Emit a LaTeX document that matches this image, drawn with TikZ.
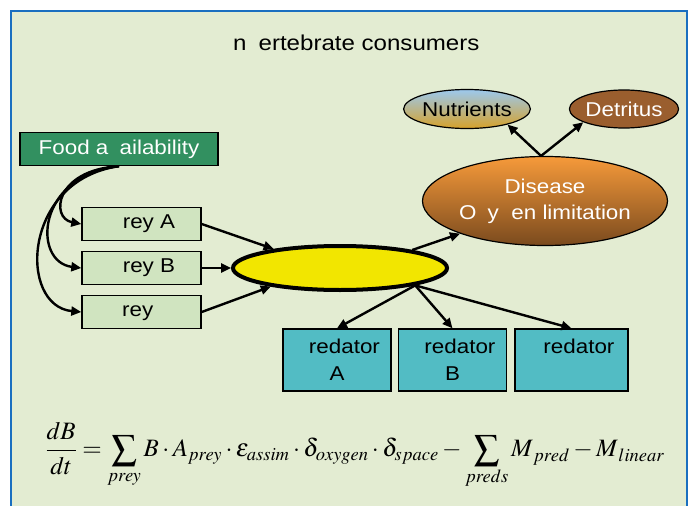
\documentclass[tikz,border=0pt]{standalone}
\usepackage{mathptmx}
\usepackage[no-math]{fontspec}
\setmainfont[FakeStretch=1.12]{Liberation Sans}
\usetikzlibrary{arrows.meta,positioning,shapes.geometric}

\definecolor{fond}{RGB}{227,236,210}
\definecolor{cadre}{RGB}{26,111,192}
\definecolor{vertF}{RGB}{50,144,96}
\definecolor{vertP}{RGB}{208,228,192}
\definecolor{jaune}{RGB}{242,230,0}
\definecolor{turq}{RGB}{82,188,196}
\definecolor{brun}{RGB}{154,94,46}

\begin{document}
\begin{tikzpicture}[x=1pt,y=1pt,on grid,node distance=44pt,
  boite/.style={draw=black,line width=1.4pt,font=\fontsize{20}{27}\selectfont,inner sep=0pt},
  proie/.style={boite,fill=vertP,minimum width=119pt,minimum height=33pt},
  pred/.style={boite,fill=turq,minimum width=108pt,minimum height=62pt,align=center},
  bulle/.style={ellipse,draw=black,line width=1.2pt,inner sep=0pt,font=\fontsize{20}{26}\selectfont,align=center}]

\tikzset{fleche/.style={-{Triangle[length=10pt,width=9pt]},line width=2.4pt,black}}

\fill[white] (0,0) rectangle (691,-506);
\useasboundingbox (0,0) rectangle (691,-506);
\draw[cadre,line width=2.5pt,fill=fond] (11,-11) rectangle (687,-530);

\node (T) at (353,-43) {\fontsize{21.5}{25}\selectfont\phantom{I}n\phantom{v}ertebrate consumers};

\node[boite,fill=vertF,text=white,minimum width=198pt,minimum height=33pt] (F) at (119,-149) {Food a\phantom{v}ailability};
\node[proie] (PA) at (141.5,-224) {\phantom{P}rey A};
\node[proie] (PB) [below=of PA] {\phantom{P}rey B};
\node[proie] (PC) [below=of PB] {\phantom{P}rey\phantom{ C}};

\node[ellipse,draw=black,line width=4pt,fill=jaune,minimum width=214pt,minimum height=44pt] (C) at (340,-268) {};

\node[bulle,text=white,top color={rgb,255:red,246;green,154;blue,58},bottom color={rgb,255:red,122;green,74;blue,30},
      minimum width=245pt,minimum height=89pt] (D) at (545,-201) {Disease\\O\phantom{x}y\phantom{g}en limitation};
\node[bulle,top color={rgb,255:red,156;green,200;blue,238},bottom color={rgb,255:red,214;green,162;blue,42},
      minimum width=120pt,minimum height=39pt] (N) at (467,-109) {Nutrients};
\node[bulle,fill=brun,text=white,minimum width=108pt,minimum height=38pt] (Det) at (624,-109) {Detritus};

\node[pred] (R1) at (337,-360) {\phantom{P}redator\\A};
\node[pred] (R2) at (452.5,-360) {\phantom{P}redator\\B};
\node[pred,minimum width=113pt] (R3) at (571.5,-360) {\phantom{P}redator\\\phantom{C}};

\draw[fleche] (F.south) .. controls (55,-170) and (50,-218) .. (PA.west);
\draw[fleche] (F.south) .. controls (36,-175) and (32,-262) .. (PB.west);
\draw[fleche] (F.south) .. controls (22,-180) and (18,-306) .. (PC.west);

\draw[fleche] (PA.east) -- (C.164);
\draw[fleche] (PB.east) -- (C.west);
\draw[fleche] (PC.east) -- (C.195);

\draw[fleche] (C.14) -- (D.201);
\draw[fleche] (C.-13) -- (R1.north);
\draw[fleche] (C.-13) -- (R2.north);
\draw[fleche] (C.-13) -- (R3.north);

\draw[fleche] (D.95) -- (N.-21);
\draw[fleche] (D.95) -- (Det.198);

\node (E) at (355,-456) {\fontsize{25}{30}\selectfont
  $\displaystyle \frac{dB}{dt}=\sum_{prey}B\cdot A_{prey}\cdot\varepsilon_{assim}\cdot\delta_{oxygen}\cdot\delta_{space}-\sum_{preds}M_{\,pred}-M_{\,linear}$};
\end{tikzpicture}
\end{document}
